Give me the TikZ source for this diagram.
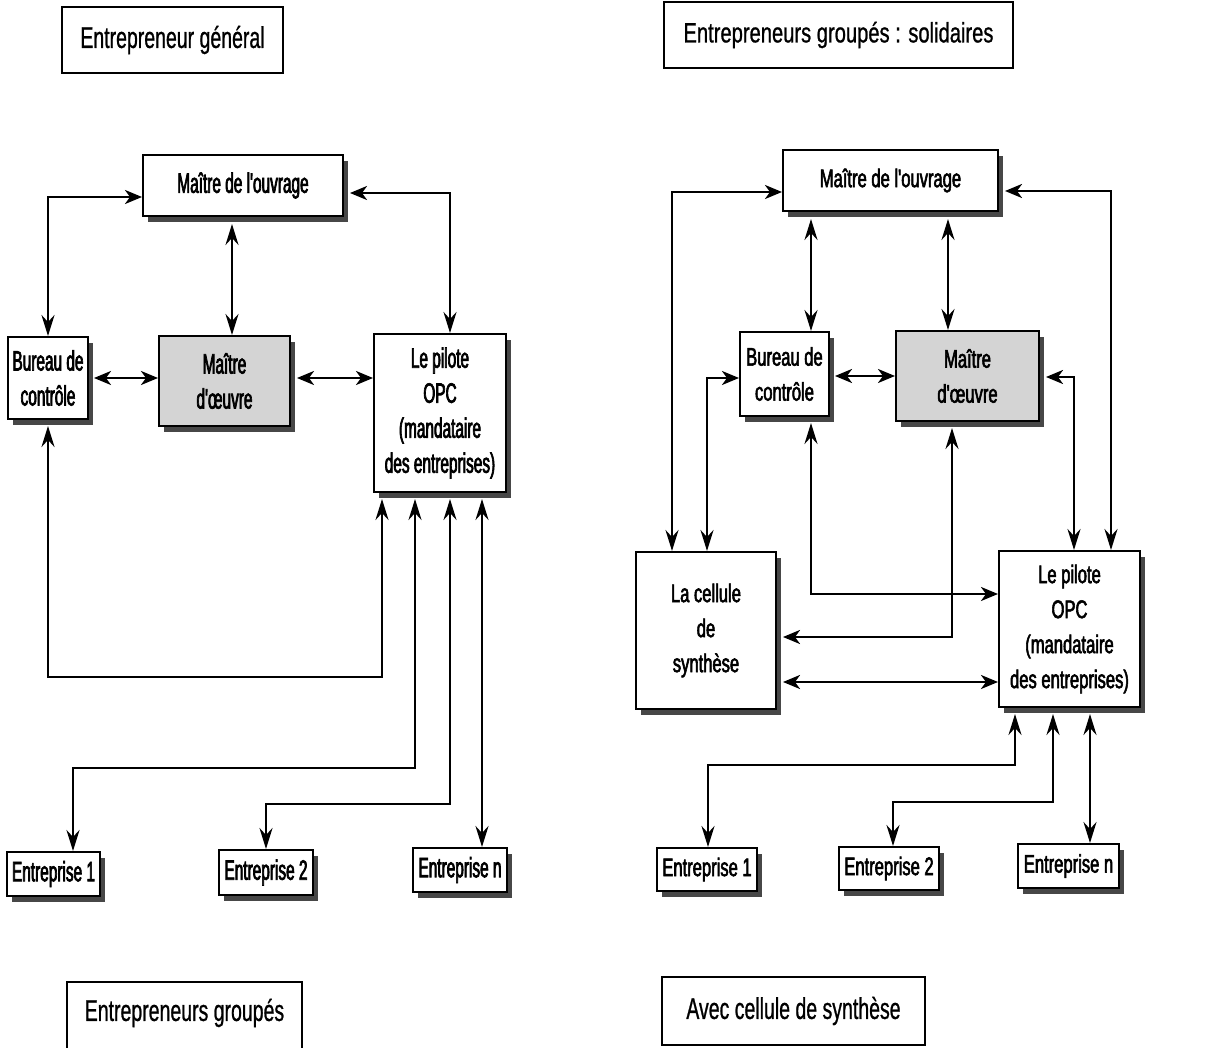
\documentclass[tikz,border=0pt]{standalone}
\usepackage{fontspec}
\setmainfont{Liberation Sans}
\newfontfamily\labL{Liberation Sans}[FakeStretch=0.55,FakeBold=2.4]
\newfontfamily\labR{Liberation Sans}[FakeStretch=0.65,FakeBold=2.2]
\newfontfamily\ttlA{Liberation Sans}[FakeStretch=0.65,FakeBold=0.8]
\newfontfamily\ttlB{Liberation Sans}[FakeStretch=0.72,FakeBold=0.8]
\usetikzlibrary{arrows.meta,shadows}
\begin{document}
\begin{tikzpicture}[x=1pt,y=-1pt,
  Hh/.tip={Stealth[length=17pt,width=14pt,inset=5pt]},
  Vv/.tip={Stealth[length=21pt,width=13pt,inset=7pt]},
  box/.style={draw=black, line width=2pt, fill=white, inner sep=0pt, align=center,
    drop shadow={shadow xshift=5pt, shadow yshift=-6pt, fill=black!72, opacity=1}},
  boxL/.style={box, font=\labL\fontsize{28}{35}\selectfont},
  boxR/.style={box, font=\labR\fontsize{25.5}{35}\selectfont},
  grey/.style={fill=black!17},
  ttl/.style={draw=black, line width=1.5pt, fill=white, inner sep=0pt, align=center,
    font=\ttlA\fontsize{30}{36}\selectfont},
  arr/.style={line width=2.5pt}
]
\fill[white] (0,0) rectangle (1205,1048);
\useasboundingbox (0,0) rectangle (1205,1048);
\clip (0,0) rectangle (1205,1048);

% titles
\node[ttl, minimum width=221pt, minimum height=66pt] (t1) at (172.5,40) {Entrepreneur général};
\node[ttl, font=\ttlB\fontsize{28}{34}\selectfont, minimum width=349pt, minimum height=66pt] (t2) at (838.5,35) {Entrepreneurs groupés : solidaires};
\node[ttl, minimum width=235pt, minimum height=70pt] (t3) at (184.5,1017) {};
\node[ttl, draw=none, fill=none] (t3txt) at (184.5,1013) {Entrepreneurs groupés};
\node[ttl, minimum width=263pt, minimum height=68pt] (t4) at (793.5,1011) {Avec cellule de synthèse};

% left diagram
\node[boxL, minimum width=200pt, minimum height=61pt] (mo1) at (243,185.5) {Maître de l'ouvrage};
\node[boxL, minimum width=80pt, minimum height=82pt] (bc1) at (48,378) {Bureau de\\contrôle};
\node[boxL, grey, minimum width=131pt, minimum height=90pt] (md1) at (224.5,381) {Maître\\d'œuvre};
\node[boxL, minimum width=132pt, minimum height=158pt] (pi1) at (440,413) {Le pilote\\OPC\\(mandataire\\des entreprises)};
\node[boxL, minimum width=93pt, minimum height=44pt] (e11) at (53.5,874) {Entreprise 1};
\node[boxL, minimum width=94pt, minimum height=45pt] (e21) at (266,872.5) {Entreprise 2};
\node[boxL, minimum width=94pt, minimum height=44pt] (en1) at (460,870) {Entreprise n};

\draw[arr, Vv-Hh] (bc1.north) |- ([yshift=-11.5pt]mo1.west);
\draw[arr, Vv-Vv, shorten <=7pt] ([xshift=7.5pt]md1.north |- mo1.south) -- ([xshift=7.5pt]md1.north);
\draw[arr, Hh-Vv, shorten <=6pt] ([yshift=-7.5pt]mo1.east) -| ([xshift=10pt]pi1.north);
\draw[arr, Hh-Hh, shorten <=5pt] (bc1.east) -- (bc1.east -| md1.west);
\draw[arr, Hh-Hh, shorten <=6pt] ([yshift=3pt]md1.east) -- ([yshift=3pt]md1.east -| pi1.west);
\draw[arr, Vv-Vv, shorten <=6pt, shorten >=6pt] (bc1.south) -- (bc1.south |- 0,677) -| ([xshift=-58pt]pi1.south);
\draw[arr, Vv-Vv, shorten <=6pt] ([xshift=-25pt]pi1.south) -- ([xshift=-25pt]pi1.south |- 0,768) -| ([xshift=19.5pt]e11.north);
\draw[arr, Vv-Vv, shorten <=6pt] ([xshift=10pt]pi1.south) -- ([xshift=10pt]pi1.south |- 0,804) -| (e21.north);
\draw[arr, Vv-Vv, shorten <=6pt] ([xshift=42pt]pi1.south) -- ([xshift=42pt]pi1.south |- en1.north);

% right diagram
\node[boxR, minimum width=215pt, minimum height=61pt] (mo2) at (890.5,180.5) {Maître de l'ouvrage};
\node[boxR, minimum width=89pt, minimum height=84pt] (bc2) at (784.5,374) {Bureau de\\contrôle};
\node[boxR, grey, minimum width=143pt, minimum height=90pt] (md2) at (967.5,376) {Maître\\d'œuvre};
\node[boxR, minimum width=140pt, minimum height=157pt] (ce2) at (706,630.5) {La cellule\\de\\synthèse};
\node[boxR, minimum width=141pt, minimum height=156pt] (pi2) at (1069.5,629) {Le pilote\\OPC\\(mandataire\\des entreprises)};
\node[boxR, minimum width=100pt, minimum height=43pt] (e12) at (707,869.5) {Entreprise 1};
\node[boxR, minimum width=100pt, minimum height=43pt] (e22) at (889,868.5) {Entreprise 2};
\node[boxR, minimum width=101pt, minimum height=44pt] (en2) at (1068.5,866) {Entreprise n};

\draw[arr, Hh-Vv] ([yshift=-11.5pt]mo2.west) -| ([xshift=-34pt]ce2.north);
\draw[arr, Hh-Vv, shorten <=6pt] ([yshift=-10.5pt]mo2.east) -| ([xshift=41.5pt]pi2.north);
\draw[arr, Vv-Vv, shorten <=7pt] ([xshift=26.5pt]bc2.north |- mo2.south) -- ([xshift=26.5pt]bc2.north);
\draw[arr, Vv-Vv, shorten <=7pt] ([xshift=-19.5pt]md2.north |- mo2.south) -- ([xshift=-19.5pt]md2.north);
\draw[arr, Hh-Hh, shorten <=5pt] ([yshift=-2pt]bc2.east) -- ([yshift=-2pt]bc2.east -| md2.west);
\draw[arr, Hh-Vv] ([yshift=-4pt]bc2.west) -| ([xshift=1pt]ce2.north);
\draw[arr, Hh-Vv, shorten <=6pt] ([yshift=-1pt]md2.east) -| ([xshift=4.5pt]pi2.north);
\draw[arr, Vv-Hh, shorten <=6pt] ([xshift=26.5pt]bc2.south) |- ([yshift=35pt]pi2.west);
\draw[arr, Vv-Hh, shorten <=6pt, shorten >=6pt] ([xshift=-15.5pt]md2.south) |- ([yshift=-6.5pt]ce2.east);
\draw[arr, Hh-Hh, shorten <=6pt] ([yshift=-51.5pt]ce2.east) -- ([yshift=-51.5pt]ce2.east -| pi2.west);
\draw[arr, Vv-Vv, shorten <=6pt] ([xshift=-54.5pt]pi2.south) -- ([xshift=-54.5pt]pi2.south |- 0,765) -| ([xshift=1pt]e12.north);
\draw[arr, Vv-Vv, shorten <=6pt] ([xshift=-16.5pt]pi2.south) -- ([xshift=-16.5pt]pi2.south |- 0,802) -| ([xshift=4pt]e22.north);
\draw[arr, Vv-Vv, shorten <=6pt] ([xshift=20.5pt]pi2.south) -- ([xshift=20.5pt]pi2.south |- en2.north);
\end{tikzpicture}
\end{document}
